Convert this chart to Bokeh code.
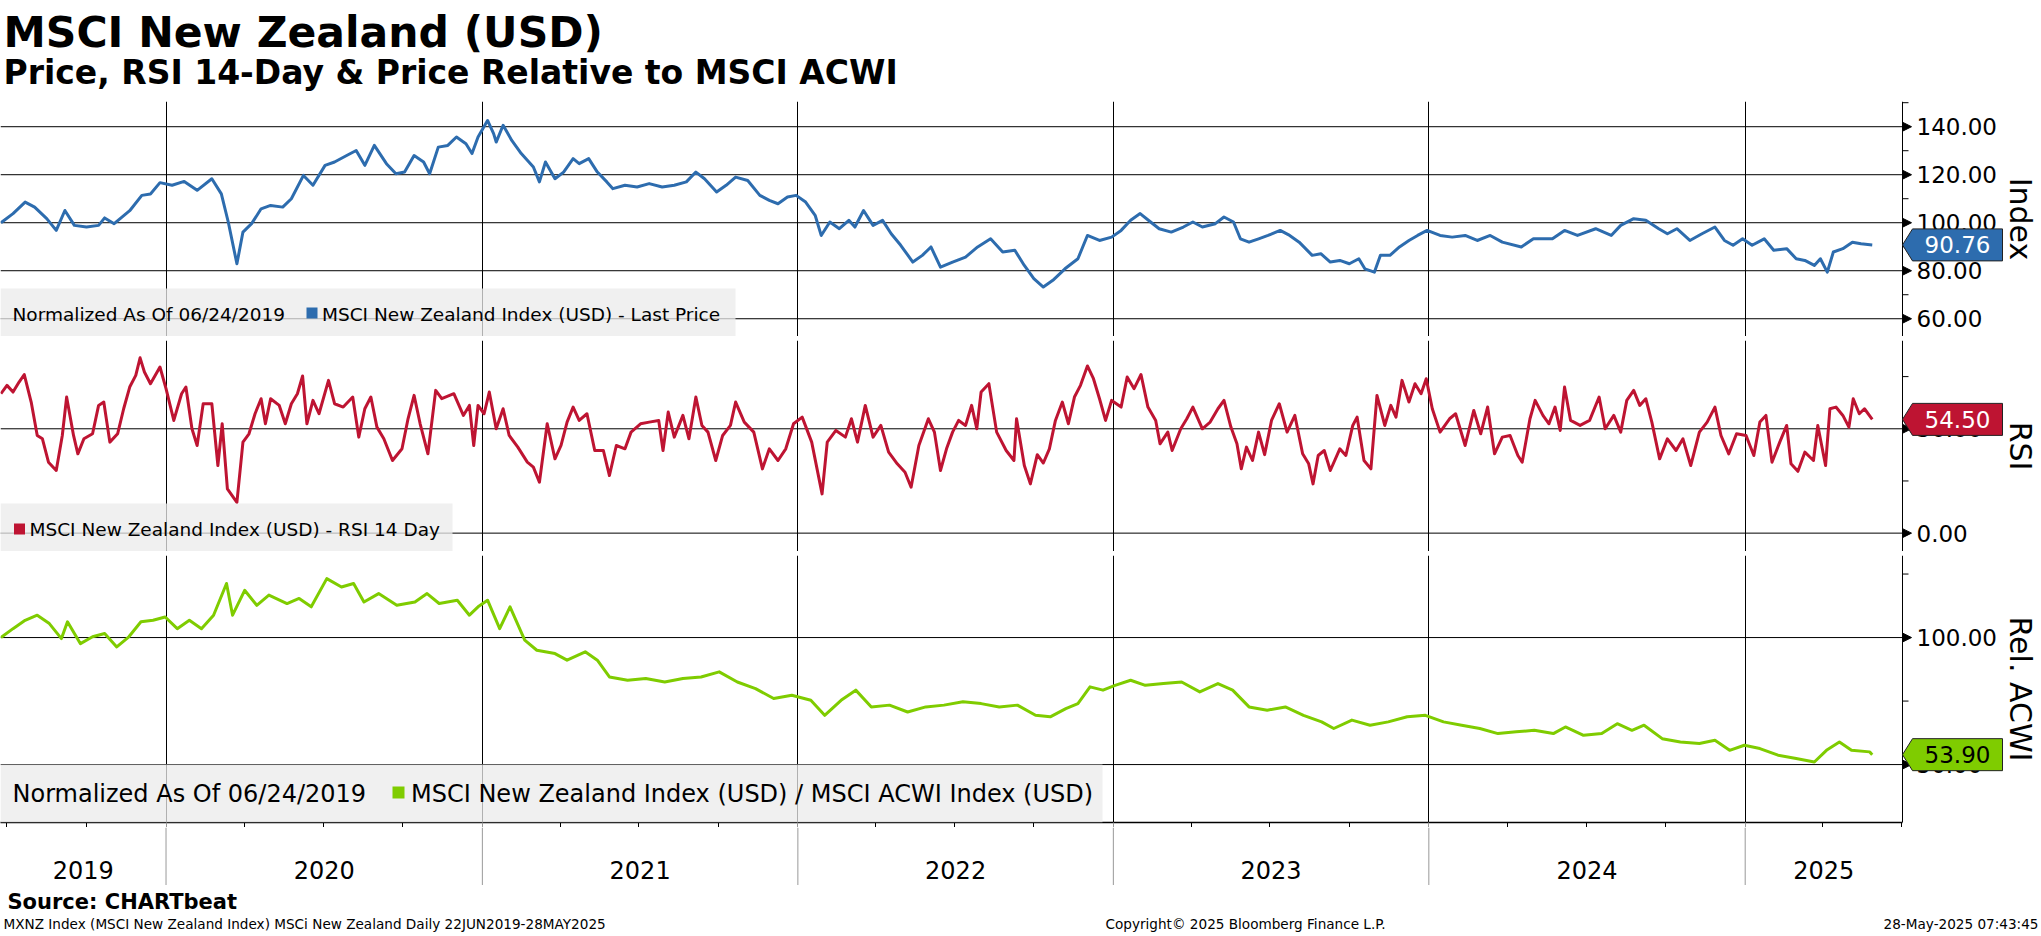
import numpy as np
import pandas as pd
from bokeh.plotting import figure
from bokeh.layouts import column
from bokeh.models import (Range1d, FixedTicker, Grid, Label, BoxAnnotation, ColumnDataSource,
                          CustomJSTickFormatter)
from bokeh.embed import file_html
from bokeh.resources import INLINE
from bokeh.core.properties import value

# ---------------- data (days since 2019-06-24) ----------------
START = pd.Timestamp("2019-06-24")

price_day = [0, 14, 28, 39, 53, 64, 74, 85, 99, 113, 120, 131, 149, 163, 173, 184, 198, 212, 227, 244,
             255, 263, 273, 280, 290, 301, 312, 326, 336, 350, 361, 375, 386, 400, 411, 421, 432, 446, 457, 467,
             478, 489, 496, 506, 517, 527, 538, 545, 552, 563, 570, 573, 581, 591, 602, 609, 616, 623, 630, 641,
             651, 662, 669, 680, 690, 701, 708, 722, 736, 750, 765, 779, 793, 804, 814, 828, 839, 850, 864, 878,
             889, 899, 910, 920, 931, 942, 949, 959, 970, 981, 988, 998, 1009, 1020, 1030, 1041, 1055, 1066, 1076,
             1087, 1101, 1116, 1130, 1145, 1159, 1173, 1184, 1195, 1206, 1217, 1231, 1246, 1257, 1271, 1285, 1296, 1307, 1318, 1329,
             1340, 1354, 1368, 1379, 1390, 1405, 1415, 1426, 1434, 1444, 1455, 1466, 1480, 1491, 1502, 1517, 1527, 1538, 1549, 1560,
             1571, 1578, 1589, 1596, 1607, 1618, 1629, 1639, 1650, 1665, 1679, 1694, 1708, 1723, 1737, 1759, 1773, 1795, 1809, 1824,
             1845, 1863, 1874, 1889, 1903, 1918, 1928, 1939, 1954, 1968, 1983, 1994, 2004, 2015, 2026, 2040, 2051, 2066, 2077, 2087,
             2098, 2105, 2113, 2120, 2131, 2142, 2152, 2165]
price_val = [100, 103.8, 108.6, 106.5, 101.7, 96.8, 105.1, 98.9, 98.2, 98.9, 102, 99.6, 105, 111.4, 112, 116.7, 115.6, 117.2, 113.5, 118.3,
             112, 100.3, 82.9, 96.1, 99.6, 105.8, 107.2, 106.5, 110, 119.7, 115.6, 123.9, 125.3, 128, 130.1, 123.9, 132.2, 124.6, 120.4, 121.1,
             128, 125.3, 120.4, 131.5, 132.2, 135.7, 132.9, 128.8, 135.7, 142.6, 137.1, 133.6, 140.6, 134.3, 128.8, 126, 123.2, 117, 125.3, 118.3,
             121.1, 126.7, 124.6, 126.7, 121.1, 117, 114.2, 115.6, 114.9, 116.3, 114.9, 115.6, 117, 121.1, 118.3, 112.8, 115.6, 119, 117.6, 111.4,
             109.3, 107.9, 110.7, 111.4, 108.6, 103.1, 94.7, 100.3, 97.5, 101, 98.2, 105.1, 98.9, 101, 95.4, 90.6, 83.6, 86.4, 89.9,
             81.5, 83.6, 85.7, 89.9, 93.3, 87.8, 88.5, 82.2, 76.7, 73.2, 76, 80.8, 85, 94.7, 92.6, 94, 96.8, 101, 103.8, 100.6,
             97.5, 96.1, 98.2, 100.3, 98.2, 99.6, 102.4, 100.3, 93.3, 91.9, 93.3, 94.7, 96.8, 94.7, 91.9, 86.4, 87.1, 83.6, 84.3, 82.9,
             85, 80.8, 79.4, 86.4, 86.4, 89.9, 92.6, 94.7, 96.8, 94.7, 94, 94.7, 92.6, 94.7, 91.9, 89.9, 93.3, 93.3, 96.8, 94.7,
             97.5, 94.7, 98.9, 101.7, 101, 97.5, 95.4, 97.5, 92.6, 95.4, 98.2, 92.6, 90.6, 93.3, 90.6, 93.3, 88.5, 89.2, 85, 84.3,
             82.2, 85, 79.4, 87.8, 89.2, 91.9, 91.2, 90.76]

rsi_day = [0, 7, 14, 21, 27, 35, 42, 48, 55, 64, 71, 76, 84, 89, 96, 106, 113, 119, 126, 135,
           142, 149, 156, 161, 166, 173, 184, 191, 200, 209, 214, 221, 227, 234, 244, 251, 256, 262, 273, 280,
           287, 294, 301, 306, 312, 322, 329, 336, 343, 349, 354, 361, 368, 379, 386, 396, 407, 414, 421, 428,
           435, 443, 453, 464, 471, 478, 485, 494, 503, 510, 524, 535, 542, 547, 552, 559, 565, 573, 581, 588,
           598, 609, 616, 623, 632, 641, 648, 655, 662, 669, 678, 687, 697, 704, 712, 722, 729, 740, 750, 761,
           766, 772, 779, 789, 796, 804, 811, 818, 827, 835, 844, 850, 860, 871, 881, 889, 899, 908, 917, 927,
           938, 950, 956, 966, 977, 984, 991, 1000, 1009, 1018, 1027, 1037, 1046, 1053, 1062, 1073, 1080,
           1087, 1094, 1101, 1108, 1116, 1123, 1129, 1134, 1143, 1152, 1163, 1172, 1175, 1184, 1191, 1199, 1206, 1213, 1220, 1228,
           1235, 1242, 1249, 1257, 1264, 1271, 1278, 1285, 1296, 1303, 1311, 1319, 1327, 1336, 1341, 1350, 1355, 1365, 1372, 1379,
           1390, 1399, 1408, 1415, 1423, 1430, 1435, 1441, 1448, 1455, 1462, 1470, 1479, 1488, 1497, 1506, 1513, 1518, 1524, 1531,
           1538, 1549, 1556, 1564, 1569, 1577, 1585, 1592, 1601, 1608, 1614, 1621, 1629, 1636, 1643, 1649, 1656, 1665, 1676, 1683,
           1694, 1704, 1712, 1720, 1728, 1737, 1746, 1755, 1760, 1769, 1775, 1784, 1791, 1798, 1804, 1809, 1816, 1827, 1838, 1849,
           1856, 1866, 1874, 1881, 1889, 1896, 1903, 1910, 1919, 1928, 1938, 1946, 1955, 1965, 1974, 1983, 1990, 1999, 2008, 2019,
           2028, 2035, 2042, 2049, 2058, 2066, 2071, 2079, 2087, 2097, 2102, 2111, 2116, 2123, 2131, 2138, 2143, 2150, 2156, 2165]
rsi_val = [66.8, 70.8, 67.6, 72.4, 76, 62.8, 46.8, 45.2, 34, 30, 46.8, 65.2, 46.8, 38, 45.2, 47.6, 61.2, 62.8, 43.6, 47.6,
           59.6, 70, 75.6, 84, 77.2, 71.6, 79.6, 69.2, 54, 66.8, 70, 50, 42, 62, 62, 32.4, 52.4, 21.2, 14.7, 43.6,
           47.6, 57.2, 64.4, 52.4, 64.4, 61.2, 52.4, 62, 66.8, 75.3, 52.4, 63.6, 57.2, 73.2, 62, 60.4, 65.2, 46, 59.6, 65.2,
           50.8, 45.2, 34.8, 40.4, 54.8, 66, 52.4, 38, 68.4, 64.4, 66.8, 56.4, 61.2, 42, 61.2, 57.2, 67.6, 50, 59.6, 46.8,
           41.2, 34, 31.6, 24.4, 52.4, 35.6, 42, 53.2, 60.4, 54, 57.2, 39.6, 39.6, 27.6, 42, 40.4, 48.4, 52.4, 53.2, 54,
           39.6, 58, 46, 56.4, 45.2, 65.2, 51.6, 48.4, 34.8, 46.8, 51.6, 62.8, 53.2, 48.4, 30.8, 40.4, 34.8, 40.4, 52.4, 55.6,
           43.6, 18.8, 43.6, 49.2, 46, 54.8, 43.6, 61.2, 46, 51.6, 38.8, 33.2, 29.2, 22, 42, 54.8, 48.4,
           30, 40.4, 48.4, 54, 51.6, 61.2, 50, 67.6, 71.6, 48.4, 39.6, 34.8, 54.8, 32.4, 23.6, 37.6, 33.6, 40.4, 54, 62.8,
           52.4, 65.2, 70.8, 80.1, 74, 64.4, 54, 63.6, 60.4, 74.8, 69.2, 76, 60.4, 54, 42.8, 48.4, 39.6, 50, 54.8, 60.4,
           50, 53.2, 59.6, 63.6, 50.8, 42.8, 30.8, 41.2, 34.8, 48.4, 37.6, 54, 62, 48.4, 56.4, 38, 33.2, 23.6, 37.2, 39.6,
           30, 40.4, 37.2, 51.6, 55.6, 34.8, 30.8, 66, 51.6, 61.2, 55.6, 73.2, 62.8, 71.6, 66.8, 74, 59.6, 48.4, 54.8, 57.2,
           42, 58.8, 47.6, 60.4, 38, 46, 46.8, 37.2, 34, 54.8, 63.6, 56.4, 52.4, 60.4, 49.2, 70, 54, 51.6, 54, 65.2,
           50, 56.4, 48.4, 63.6, 68.4, 61.2, 64.4, 53.2, 35.6, 45.2, 39.6, 45.2, 32.4, 48.4, 53.2, 60.4, 46.8, 38, 47.6, 46.8,
           37.2, 53.2, 56.4, 34, 43.6, 51.6, 33.2, 29.6, 38.8, 34.8, 51.6, 32.4, 59.6, 60.4, 56.4, 50.8, 64.4, 57.2, 59.6, 54.5]

rel_day = [0, 14, 28, 42, 56, 70, 77, 92, 106, 120, 134, 148, 162, 176, 190, 204, 218, 232, 246, 261,
           268, 282, 296, 310, 331, 345, 359, 377, 394, 408, 420, 437, 458, 479, 493, 507, 528, 542, 552, 563,
           577, 589, 606, 620, 641, 655, 676, 690, 704, 725, 746, 768, 789, 810, 831, 852, 873, 894, 915, 937,
           953, 972, 989, 1007, 1028, 1049, 1070, 1091, 1113, 1134, 1155, 1176, 1197, 1214, 1232, 1246, 1260, 1275, 1289, 1307,
           1324, 1345, 1366, 1387, 1408, 1425, 1444, 1465, 1486, 1507, 1528, 1542, 1563, 1584, 1605, 1627, 1648, 1669, 1690, 1711,
           1732, 1753, 1774, 1796, 1810, 1831, 1852, 1870, 1887, 1901, 1922, 1943, 1965, 1983, 2000, 2017, 2035, 2056, 2077, 2098,
           2112, 2127, 2141, 2162, 2165]
rel_val = [100, 103.5, 106.8, 108.8, 105.5, 99.6, 106.2, 97.6, 100.3, 101.6, 96.3, 100.3, 106.2, 106.8, 108.1, 103.5, 106.8, 103.5, 108.8, 121.3,
           108.8, 118.6, 112.7, 116.7, 113.4, 115.4, 112.1, 123.2, 119.9, 121.3, 114, 117.3, 112.7, 114, 117.3, 113.4, 114.7, 108.8, 112.1, 114.7,
           103.5, 112.1, 99, 95, 93.7, 91.1, 94.4, 91.1, 84.5, 83.2, 83.9, 82.5, 83.9, 84.5, 86.5, 82.5, 79.9, 76, 77.3, 75.3,
           69.4, 75.3, 79.3, 72.7, 73.4, 70.7, 72.7, 73.4, 74.7, 74, 72.7, 73.4, 69.4, 68.8, 72, 74, 80.6, 79.3, 81.2, 83.2,
           81.2, 81.9, 82.5, 78.6, 81.9, 79.3, 72.7, 71.4, 72.7, 69.4, 66.8, 64.2, 67.5, 65.5, 66.8, 68.8, 69.4, 66.8, 65.5, 64.2,
           62.2, 62.9, 63.5, 62.2, 64.8, 61.5, 62.2, 66.1, 63.5, 65.5, 60.2, 58.9, 58.3, 59.6, 55.6, 57.6, 56.3, 53.7, 52.4, 51,
           55.6, 58.9, 55.6, 55, 53.9]

year_labels = ["2019", "2020", "2021", "2022", "2023", "2024", "2025"]
price_ticks, price_minor = [60, 80, 100, 120, 140], [70, 90, 110, 130, 150]
rsi_ticks, rsi_minor = [0, 50], [25, 75]
rel_ticks, rel_minor = [50, 100], [25, 75, 125]

price_color, rsi_color, rel_color = "#2d6cae", "#be1432", "#7fcc00"

# ---------------- layout constants (pixels) ----------------
FONT = "DejaVu Sans"
W = 2041           # canvas width
FW = 1902          # x position of the value axis
x_start = pd.Timestamp("2019-06-23 12:00")
x_end = pd.Timestamp("2025-07-02")     # date at the value axis
X0 = x_start.value / 1e6
X1 = x_end.value / 1e6


def X(px):
    return X0 + px * (X1 - X0) / FW


xr = Range1d(X0, X(W))


def ms(ts):
    return pd.Timestamp(ts).value / 1e6


year_ms = [ms(f"{y}-01-01") for y in range(2020, 2026)]
quarter_ms = [ms(f"{y}-{m:02d}-01") for y in range(2019, 2026) for m in (4, 7, 10)
              if X0 < ms(f"{y}-{m:02d}-01") < X1]
bounds = [X0] + year_ms + [X1]
year_mid = [(a + b) / 2 for a, b in zip(bounds[:-1], bounds[1:])]


def Y(yr, fh, py):
    return yr[1] - py * (yr[1] - yr[0]) / fh


def dates(days):
    return START + pd.to_timedelta(np.array(days, dtype=float), unit="D")


def panel(fh, yr, ticks, minor, label, days, vals, color, fill, txtcol, xaxis=False):
    p = figure(frame_width=W, frame_height=fh, x_range=xr, y_range=Range1d(*yr),
               x_axis_type="datetime", x_axis_location="below" if xaxis else None,
               y_axis_location=None, toolbar_location=None, output_backend="svg",
               title=None, min_border=0)
    p.outline_line_color = None
    p.grid.visible = False
    p.add_layout(Grid(dimension=0, ticker=FixedTicker(ticks=year_ms),
                      grid_line_color="black", grid_line_width=1))
    ppu = fh / (yr[1] - yr[0])
    major = [t for t in ticks if yr[0] <= t <= yr[1]]
    mnr = [t for t in minor if yr[0] <= t <= yr[1]]
    # horizontal grid lines at the major ticks
    p.segment(x0=[X0] * len(major), x1=[X1] * len(major), y0=major, y1=major,
              line_color="black", line_width=1)
    # value axis line, minor ticks, tick arrows, tick labels, axis title
    p.segment(x0=[X1], x1=[X1], y0=[yr[0]], y1=[yr[1]], line_color="black", line_width=1)
    p.segment(x0=[X1] * len(mnr), x1=[X(FW + 6)] * len(mnr), y0=mnr, y1=mnr,
              line_color="black", line_width=1)
    h = 4.5 / ppu
    p.patches(xs=[[X1, X(FW + 9), X1] for _ in major],
              ys=[[t + h, t, t - h] for t in major], fill_color="black", line_color="black")
    p.text(x=[X(FW + 14)] * len(major), y=major, text=[f"{t:.2f}" for t in major],
           text_font=value(FONT), text_font_size="23px", text_baseline="middle",
           text_align="left", text_color="black")
    p.text(x=[X(2020)], y=[(yr[0] + yr[1]) / 2], text=[label], angle=-np.pi / 2,
           text_font=value(FONT), text_font_size="30px", text_baseline="middle",
           text_align="center", text_color="black")
    # the series
    src = ColumnDataSource(dict(x=dates(days), y=vals))
    p.line("x", "y", source=src, line_color=color, line_width=3, line_join="round")
    # last value badge
    v = vals[-1]
    hb = 16 / ppu
    p.patch(x=[X1, X(FW + 10), X(FW + 100), X(FW + 100), X(FW + 10)],
            y=[v, v + hb, v + hb, v - hb, v - hb], fill_color=fill,
            line_color="#222222", line_width=1)
    p.text(x=[X(FW + 55)], y=[v], text=[f"{v:.2f}"], text_font=value(FONT),
           text_font_size="23px", text_baseline="middle", text_align="center", text_color=txtcol)
    if xaxis:
        xa = p.xaxis[0]
        xa.bounds = (X0, X1)
        xa.ticker = FixedTicker(ticks=year_ms, minor_ticks=[q for q in quarter_ms if q not in year_ms])
        xa.formatter = CustomJSTickFormatter(code="return ''")
        xa.major_tick_out = 5
        xa.major_tick_in = 0
        xa.major_tick_line_color = "#999999"
        xa.minor_tick_out = 5
        xa.minor_tick_in = 0
        xa.minor_tick_line_color = "black"
        xa.major_label_text_font_size = "0px"
        xa.major_label_standoff = 0
        xa.axis_line_color = "black"
        xa.axis_line_width = 1.5
    return p


def legend_box(p, yr, fh, right_px, top_px):
    p.add_layout(BoxAnnotation(left=X0, right=X(right_px), top=Y(yr, fh, top_px), bottom=yr[0],
                               fill_color="#ebebeb", fill_alpha=0.75, line_color=None))


def legend_text(p, yr, fh, x_px, mid_px, text, size):
    p.add_layout(Label(x=X(x_px), y=Y(yr, fh, mid_px), text=text, text_font=FONT,
                       text_font_size=size, text_color="black", text_baseline="middle",
                       text_align="left"))


def legend_mark(p, yr, fh, l, r, t, b, color):
    p.add_layout(BoxAnnotation(left=X(l), right=X(r), top=Y(yr, fh, t), bottom=Y(yr, fh, b),
                               fill_color=color, fill_alpha=1, line_color=None))


# ---------------- price panel ----------------
PR, PH = (52.6, 150.5), 235
p1 = panel(PH, PR, price_ticks, price_minor, "Index", price_day, price_val, price_color,
           price_color, "white")
legend_box(p1, PR, PH, 735, 187)
legend_text(p1, PR, PH, 12, 212.5, "Normalized As Of 06/24/2019", "18.5px")
legend_mark(p1, PR, PH, 306, 317, 206, 217, price_color)
legend_text(p1, PR, PH, 321.5, 212.5, "MSCI New Zealand Index (USD) - Last Price", "18.5px")

# ---------------- RSI panel ----------------
RR, RH = (-8.8, 92.3), 211
p2 = panel(RH, RR, rsi_ticks, rsi_minor, "RSI", rsi_day, rsi_val, rsi_color, rsi_color, "white")
legend_box(p2, RR, RH, 452, 163)
legend_mark(p2, RR, RH, 13.5, 24.5, 183, 194, rsi_color)
legend_text(p2, RR, RH, 29, 188.5, "MSCI New Zealand Index (USD) - RSI 14 Day", "18.5px")

# ---------------- relative panel ----------------
LR, LH = (27.2, 132.3), 267
p3 = panel(LH, LR, rel_ticks, rel_minor, "Rel. ACWI", rel_day, rel_val, rel_color, rel_color,
           "black", xaxis=True)
legend_box(p3, LR, LH, 1102, 209)
legend_text(p3, LR, LH, 12, 238.3, "Normalized As Of 06/24/2019", "24px")
legend_mark(p3, LR, LH, 392, 404, 231, 243, rel_color)
legend_text(p3, LR, LH, 410.5, 238.3, "MSCI New Zealand Index (USD) / MSCI ACWI Index (USD)", "24px")


def blank(h, bg="white", xrange=None):
    f = figure(width=W, height=h, x_range=xrange if xrange is not None else Range1d(0, W),
               y_range=Range1d(h, 0), x_axis_type="datetime" if xrange is not None else "linear",
               toolbar_location=None, output_backend="svg", x_axis_location=None,
               y_axis_location=None, title=None, min_border=0)
    f.outline_line_color = None
    f.grid.visible = False
    f.background_fill_color = bg
    f.border_fill_color = bg
    return f


# header
hdr = blank(101)
hdr.text(x=[3], y=[32.2], text=["MSCI New Zealand (USD)"], text_font=value(FONT),
         text_font_size="42.5px", text_font_style="bold", text_baseline="middle", text_color="black")
hdr.text(x=[3], y=[72.0], text=["Price, RSI 14-Day & Price Relative to MSCI ACWI"], text_font=value(FONT),
         text_font_size="33px", text_font_style="bold", text_baseline="middle", text_color="black")

s1 = blank(4, "#3d3d3d")
s2 = blank(4, "#3d3d3d")

# year strip under the time axis
strip = blank(58, xrange=xr)
strip.segment(x0=year_ms, x1=year_ms, y0=[0] * len(year_ms), y1=[58] * len(year_ms),
              line_color="#999999", line_width=1)
strip.text(x=year_mid, y=[42] * len(year_mid), text=year_labels, text_font=value(FONT),
           text_font_size="24px", text_baseline="middle", text_align="center", text_color="black")

# footer
ftr = blank(49)
ftr.text(x=[7], y=[16.2], text=["Source: CHARTbeat"], text_font=value(FONT), text_font_size="21px",
         text_font_style="bold", text_baseline="middle", text_color="black")
ftr.text(x=[3], y=[38.5], text=["MXNZ Index (MSCI New Zealand Index) MSCi New Zealand  Daily 22JUN2019-28MAY2025"],
         text_font=value(FONT), text_font_size="13.6px", text_baseline="middle", text_color="black")
ftr.text(x=[1105], y=[38.5], text=["Copyright\u00a9 2025 Bloomberg Finance L.P."], text_font=value(FONT),
         text_font_size="13.6px", text_baseline="middle", text_color="black")
ftr.text(x=[2038], y=[38.5], text=["28-May-2025 07:43:45"], text_font=value(FONT), text_font_size="13.6px",
         text_baseline="middle", text_align="right", text_color="black")

layout = column(hdr, p1, s1, p2, s2, p3, strip, ftr, spacing=0)
open("out.html", "w").write(file_html(layout, INLINE))
